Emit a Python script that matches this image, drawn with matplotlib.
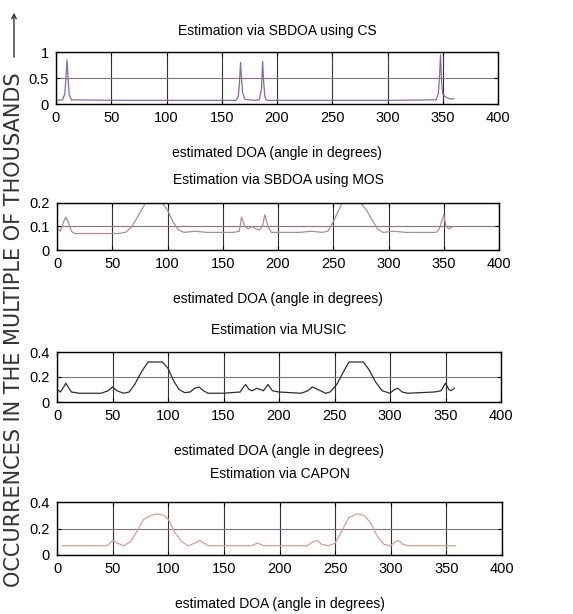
import matplotlib
matplotlib.use("Agg")
import matplotlib.pyplot as plt

# angle grid (deg) and occurrence values
cs_deg = [0, 6, 8, 9, 10, 11, 12, 14, 60, 120, 163, 165, 166, 167, 168, 169, 171, 175, 180,
          184, 186, 187, 188, 189, 190, 192, 200, 260, 300, 344, 346, 347, 348, 349, 350, 352, 356, 360]
cs_val = [0.07, 0.08, 0.2, 0.5, 0.85, 0.45, 0.18, 0.08, 0.07, 0.07, 0.07, 0.15, 0.4, 0.8, 0.45, 0.2, 0.09,
          0.08, 0.07, 0.08, 0.3, 0.82, 0.4, 0.15, 0.08, 0.07, 0.07, 0.07, 0.07, 0.08, 0.2, 0.5, 0.95, 0.4,
          0.2, 0.14, 0.1, 0.1]

mos_deg = [0, 3, 6, 8, 10, 13, 16, 40, 55, 62, 68, 74, 80, 95, 100, 105, 110, 115, 125, 135, 160,
           165, 167, 170, 173, 176, 180, 183, 186, 188, 191, 194, 200, 220, 230, 240, 245, 250, 255,
           258, 275, 280, 285, 290, 295, 305, 315, 340, 343, 346, 348, 350, 352, 355, 358]
mos_val = [0.09, 0.08, 0.12, 0.14, 0.12, 0.08, 0.07, 0.07, 0.07, 0.075, 0.1, 0.15, 0.2, 0.2, 0.17, 0.12,
           0.085, 0.075, 0.08, 0.075, 0.075, 0.08, 0.14, 0.1, 0.09, 0.1, 0.09, 0.085, 0.1, 0.15, 0.1,
           0.075, 0.075, 0.075, 0.08, 0.075, 0.08, 0.12, 0.17, 0.2, 0.2, 0.17, 0.13, 0.09, 0.075, 0.08,
           0.075, 0.075, 0.075, 0.09, 0.12, 0.15, 0.1, 0.09, 0.1]

music_deg = [0, 3, 6, 8, 10, 13, 20, 40, 46, 50, 54, 60, 65, 70, 76, 82, 95, 100, 105, 110, 115, 120,
             124, 128, 132, 136, 150, 165, 168, 170, 173, 176, 180, 183, 186, 190, 194, 200, 220, 226,
             230, 235, 242, 246, 252, 258, 263, 276, 281, 287, 293, 300, 304, 307, 311, 316, 340, 346,
             348, 350, 353, 355, 358]
music_val = [0.1, 0.08, 0.12, 0.15, 0.12, 0.08, 0.07, 0.07, 0.09, 0.12, 0.09, 0.07, 0.08, 0.14, 0.24,
             0.32, 0.32, 0.27, 0.17, 0.1, 0.075, 0.08, 0.11, 0.12, 0.09, 0.07, 0.07, 0.08, 0.12, 0.14,
             0.1, 0.09, 0.11, 0.1, 0.09, 0.14, 0.09, 0.08, 0.07, 0.09, 0.12, 0.1, 0.07, 0.08, 0.14, 0.24,
             0.32, 0.32, 0.26, 0.16, 0.09, 0.07, 0.1, 0.11, 0.08, 0.07, 0.08, 0.09, 0.12, 0.15, 0.1, 0.09,
             0.11]

capon_deg = [5, 45, 50, 54, 60, 66, 72, 78, 85, 90, 96, 100, 106, 112, 118, 124, 128, 132, 136, 175,
             180, 186, 225, 230, 234, 238, 244, 250, 256, 262, 270, 276, 282, 288, 294, 300, 304, 307,
             311, 316, 358]
capon_val = [0.07, 0.07, 0.11, 0.09, 0.07, 0.1, 0.18, 0.27, 0.3, 0.31, 0.3, 0.27, 0.17, 0.1, 0.07, 0.09,
             0.11, 0.09, 0.07, 0.07, 0.09, 0.07, 0.07, 0.1, 0.11, 0.08, 0.07, 0.09, 0.18, 0.28, 0.31, 0.3,
             0.24, 0.14, 0.08, 0.07, 0.1, 0.11, 0.08, 0.07, 0.07]

titles = ["Estimation via SBDOA using CS", "Estimation via SBDOA using MOS",
          "Estimation via MUSIC", "Estimation via CAPON"]
ylims = [(0, 1), (0, 0.2), (0, 0.4), (0, 0.4)]
yticks = [[0, 0.5, 1], [0, 0.1, 0.2], [0, 0.2, 0.4], [0, 0.2, 0.4]]
colors = ["#8a6a9c", "#b08c92", "#2e2e2e", "#d8a090"]
series = [(cs_deg, cs_val), (mos_deg, mos_val), (music_deg, music_val), (capon_deg, capon_val)]

W, H = 573, 614
# axes boxes in pixels: left, top, right, bottom
boxes = [(56, 52, 498, 104), (57, 203, 499, 250), (57, 352, 501, 402), (57, 502, 502, 555)]
title_pads = [12, 14, 13, 17]

plt.rcParams['font.family'] = ['Liberation Sans', 'DejaVu Sans']

fig = plt.figure(figsize=(W / 100, H / 100), dpi=100)

for i, (x, y) in enumerate(series):
    l, t, r, b = boxes[i]
    ax = fig.add_axes([l / W, 1 - b / H, (r - l) / W, (b - t) / H])
    ax.plot(x, y, color=colors[i], lw=0.9)
    ax.set_xlim(0, 400)
    ax.set_ylim(*ylims[i])
    ax.set_xticks(range(0, 401, 50))
    ax.set_yticks(yticks[i])
    ax.set_yticklabels([f"{v:g}" for v in yticks[i]])
    ax.grid(axis='x', color='#333333', lw=0.8)
    ax.grid(axis='y', color='#8a7080', lw=0.8)
    ax.tick_params(direction='in', top=True, right=True, labelsize=10.5, length=3, pad=5)
    for s in ax.spines.values():
        s.set_linewidth(1.0)
    ax.set_title(titles[i], fontsize=10, pad=title_pads[i])
    ax.set_xlabel("estimated DOA (angle in degrees)", fontsize=10, labelpad=15)

fig.text(14 / W, 1 - 330 / H, "OCCURRENCES IN THE MULTIPLE OF THOUSANDS",
         rotation=90, ha='center', va='center', fontsize=15,
         family='DejaVu Sans', color='#333333')
fig.add_artist(matplotlib.patches.FancyArrowPatch(
    (14 / W, 1 - 60 / H), (14 / W, 1 - 10 / H), transform=fig.transFigure,
    arrowstyle='->', mutation_scale=8, lw=1.0, color='#333333'))

fig.savefig("out.png", dpi=100)
